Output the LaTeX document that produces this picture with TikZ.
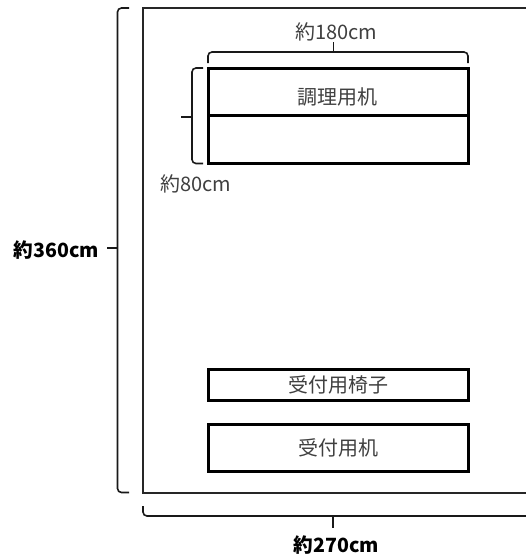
\documentclass[tikz,border=0pt]{standalone}
\usepackage{fontspec}
\setmainfont{Noto Sans CJK JP}
\usetikzlibrary{calc}
\tikzset{
  wall/.style={draw=black!85,line width=2pt,minimum width=387pt,minimum height=484.5pt,inner sep=0pt,outer sep=0pt},
  furn/.style={draw=black,line width=3pt,minimum width=260pt,inner sep=0pt,outer sep=0pt,font=\fontsize{20}{22}\selectfont,text=black!75},
  bracket/.style={draw=black!90,line width=1.6pt,rounded corners=4pt},
  tick/.style={draw=black!90,line width=1.6pt},
  lab/.style={inner sep=0pt,text=black!75,font=\fontsize{20}{22}\selectfont},
  blab/.style={inner sep=0pt,text=black,font=\fontsize{19.6}{22}\selectfont\bfseries}
}
\begin{document}
\begin{tikzpicture}[x=1pt,y=-1pt]
\useasboundingbox (0,0) rectangle (526,557);
\fill[white] (0,0) rectangle (526,557);
\node[wall] (room) at (336.5,250.25) {};
\node[furn,minimum height=47.5pt] (cook) at (338,91.75) {};
\node[furn,minimum height=47.5pt] (cooklow) at (338,139.25) {};
\node[furn,minimum height=31pt] (chair) at (338,384.5) {受付用椅子};
\node[furn,minimum height=47pt] (desk) at (338,447.5) {受付用机};
\node[lab] (cooktext) at (337,97) {調理用机};
\node[blab] (w360) at (56.5,250) {約360cm};
\node[blab] (w270) at (336.5,545) {約270cm};
\node[lab] (w180) at (336.5,32) {約180cm};
\node[lab] (w80) at (196,184) {約80cm};
% outer left bracket
\coordinate (lt) at (129,8);
\coordinate (lb) at (129,492.5);
\coordinate (lm) at (117.5,248);
\coordinate (lk) at (107,248);
\draw[bracket] (lt) -- (117.5,8) -- (117.5,492.5) -- (lb);
\draw[tick] (lm) -- (lk);
% bottom bracket
\coordinate (bl) at (143,506);
\coordinate (br) at (530,506);
\coordinate (bm) at (333,516);
\coordinate (bk) at (333,527.5);
\draw[bracket] (bl) -- (143,516) -- (530,516) -- (br);
\draw[tick] (bm) -- (bk);
% top bracket over table
\coordinate (tl) at (208,63);
\coordinate (tr) at (468,63);
\coordinate (tm) at (333.5,52);
\coordinate (tk) at (333.5,42);
\draw[bracket] (tl) -- (208,52) -- (468,52) -- (tr);
\draw[tick] (tm) -- (tk);
% table left bracket
\coordinate (ct) at (203,68);
\coordinate (cb) at (203,163.5);
\coordinate (cm) at (192,117);
\coordinate (ck) at (181,117);
\draw[bracket] (ct) -- (192,68) -- (192,163.5) -- (cb);
\draw[tick] (cm) -- (ck);
\end{tikzpicture}
\end{document}
